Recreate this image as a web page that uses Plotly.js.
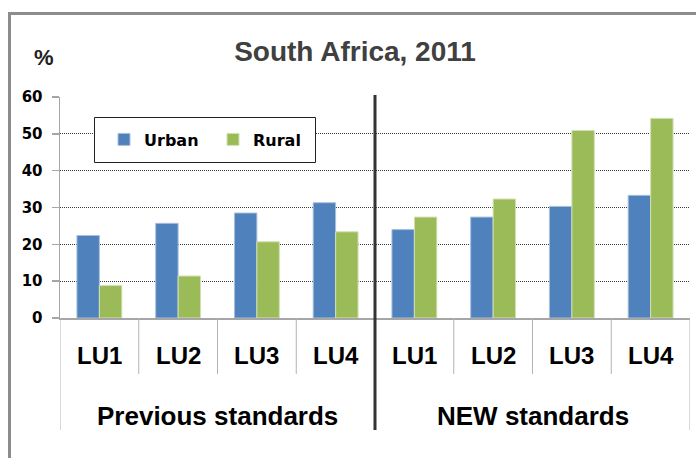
<!DOCTYPE html>
<html>
<head>
<meta charset="utf-8">
<script src="https://cdn.plot.ly/plotly-3.0.1.min.js"></script>
<style>html,body{margin:0;padding:0;background:#fff;}#chart{width:696px;height:458px;}</style>
</head>
<body>
<div id="chart"></div>
<script>
// ---- data ----
const groups = ['Previous standards', 'NEW standards'];
const units = ['LU1', 'LU2', 'LU3', 'LU4'];
const categories = ['LU1', 'LU2', 'LU3', 'LU4', 'LU1', 'LU2', 'LU3', 'LU4'];
const urban = [22.4, 25.7, 28.5, 31.3, 24.0, 27.4, 30.3, 33.3];
const rural = [8.8, 11.4, 20.7, 23.4, 27.4, 32.3, 50.9, 54.2];
const yTicks = [0, 10, 20, 30, 40, 50, 60];
const chartTitle = 'South Africa, 2011';
const yUnit = '%';

// ---- layout helpers ----
const W = 696, H = 458;
const L = 60, R = 6, T = 97, B = 140;
const pw = W - L - R, ph = H - T - B;
const px2x = p => (p - L) / pw;
const py2y = p => (H - B - p) / ph;

const xs = categories.map((c, i) => i);
const narrow = '"Liberation Sans Narrow", "Arial Narrow", "Liberation Sans", Arial, sans-serif';
const verd = '"DejaVu Sans", Verdana, sans-serif';

const traces = [
  {type: 'bar', name: 'Urban', x: xs, y: urban,
   marker: {color: '#4F81BD', line: {color: '#A9C0DD', width: 1}}, hoverinfo: 'y'},
  {type: 'bar', name: 'Rural', x: xs, y: rural,
   marker: {color: '#9BBB59', line: {color: '#D2E1B4', width: 1}}, hoverinfo: 'y'}
];

const shapes = [];
// outer frame
shapes.push({type: 'rect', xref: 'paper', yref: 'paper',
  x0: px2x(9.5), x1: px2x(720), y0: py2y(480), y1: py2y(13.5),
  line: {color: '#8c8c8c', width: 3}, fillcolor: 'rgba(0,0,0,0)', layer: 'below'});
// category separators
const nCat = categories.length;
for (let k = 0; k <= nCat; k++) {
  const xv = k - 0.5;
  const outer = (k === 0 || k === nCat);
  const mid = (k === nCat / 2);
  if (mid) continue;
  shapes.push({type: 'line', xref: 'x', yref: 'paper', x0: xv, x1: xv,
    y0: 0, y1: outer ? py2y(430) : py2y(374),
    line: {color: '#b3b3b3', width: 1}});
}
// middle thick divider
shapes.push({type: 'line', xref: 'x', yref: 'paper', x0: nCat / 2 - 0.5, x1: nCat / 2 - 0.5,
  y0: py2y(430), y1: py2y(95), line: {color: '#333333', width: 3}});
// legend box
shapes.push({type: 'rect', xref: 'paper', yref: 'paper',
  x0: px2x(94.5), x1: px2x(315.5), y0: py2y(162.5), y1: py2y(117.5),
  fillcolor: '#ffffff', line: {color: '#222222', width: 1}, layer: 'above'});

const annotations = [];
categories.forEach((c, i) => {
  annotations.push({xref: 'x', yref: 'paper', x: i, y: py2y(355), text: '<b>' + c + '</b>',
    showarrow: false, xanchor: 'center', yanchor: 'middle',
    font: {family: narrow, size: 24, color: '#000'}});
});
groups.forEach((g, gi) => {
  const center = gi * units.length + (units.length - 1) / 2;
  annotations.push({xref: 'x', yref: 'paper', x: center, y: py2y(416), text: '<b>' + g + '</b>',
    showarrow: false, xanchor: 'center', yanchor: 'middle',
    font: {family: narrow, size: 26, color: '#000'}});
});
annotations.push({xref: 'paper', yref: 'paper', x: px2x(44), y: py2y(58), text: '<b>' + yUnit + '</b>',
  showarrow: false, xanchor: 'center', yanchor: 'middle',
  font: {family: 'Arial, "Liberation Sans", sans-serif', size: 22, color: '#222'}});

const layout = {
  width: W, height: H,
  margin: {l: L, r: R, t: T, b: B, pad: 0},
  paper_bgcolor: '#ffffff', plot_bgcolor: '#ffffff',
  title: {text: '<b>' + chartTitle + '</b>', x: px2x(355), xanchor: 'center', xref: 'paper',
    y: 1 - 51 / H, yanchor: 'middle', yref: 'container',
    font: {family: 'Arial, "Liberation Sans", sans-serif', size: 28, color: '#404040'}},
  barmode: 'group', bargap: 0.43, bargroupgap: 0,
  showlegend: true,
  legend: {orientation: 'h', x: px2x(104), xanchor: 'left', y: py2y(139.5), yanchor: 'middle',
    bgcolor: 'rgba(0,0,0,0)', borderwidth: 0, entrywidth: 64, entrywidthmode: 'pixels',
    font: {family: verd, size: 16, color: '#000', weight: 'bold'}, traceorder: 'normal'},
  xaxis: {range: [-0.5, nCat - 0.5], showgrid: false, zeroline: false, showticklabels: false,
    ticks: '', showline: true, linecolor: '#a6a6a6', linewidth: 1.5, fixedrange: true},
  yaxis: {range: [0, 60], tickvals: yTicks, ticktext: yTicks.map(v => '<b>' + v + '</b>'),
    showgrid: true, gridcolor: '#3a3a3a', griddash: '1px,1px', gridwidth: 1,
    zeroline: false, showline: true, linecolor: '#a6a6a6', linewidth: 1.5,
    ticks: 'outside', ticklen: 7, tickcolor: '#a6a6a6', tickwidth: 1.5,
    ticklabelstandoff: 6,
    tickfont: {family: verd, size: 15, color: '#000'}, fixedrange: true},
  shapes: shapes,
  annotations: annotations
};

Plotly.newPlot('chart', traces, layout, {displayModeBar: false, staticPlot: true});
</script>
</body>
</html>
